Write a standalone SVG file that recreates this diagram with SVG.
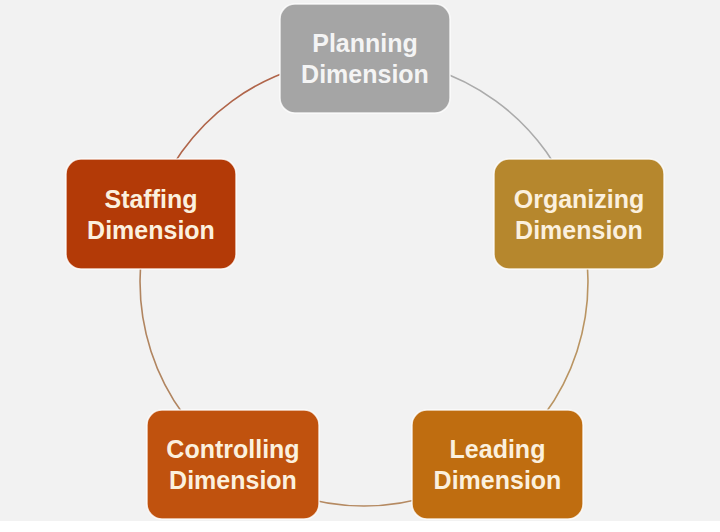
<svg xmlns="http://www.w3.org/2000/svg" width="720" height="532" viewBox="0 0 720 532">
<style>
.box{stroke:#ffffff;stroke-width:1.5;stroke-opacity:0.8}
.lbl{font-family:"Liberation Sans",Arial,sans-serif;font-weight:bold;font-size:25px;text-anchor:middle;fill:#fbf0de}
.arc{fill:none;stroke-width:1.6}
</style>
<rect x="0" y="0" width="720" height="532" fill="#ffffff"/>
<rect x="0" y="0" width="720" height="521" fill="#f2f2f2"/>
<g id="connectors">
<path class="arc" d="M364 58 A224 224 0 0 1 577 212.8" stroke="#ababab"/>
<path class="arc" d="M577 212.8 A224 224 0 0 1 495.7 463.2" stroke="#b99462"/>
<path class="arc" d="M495.7 463.2 A224 224 0 0 1 232.3 463.2" stroke="#b58a62"/>
<path class="arc" d="M232.3 463.2 A224 224 0 0 1 151 212.8" stroke="#b18560"/>
<path class="arc" d="M151 212.8 A224 224 0 0 1 364 58" stroke="#b0654a"/>
</g>
<g id="planning">
<rect class="box" x="280" y="4" width="170" height="109" rx="15" fill="#a5a5a5"/>
<text class="lbl" x="365" y="52" fill="#f4f4f4" style="fill:#f4f4f4">Planning</text>
<text class="lbl" x="365" y="83" style="fill:#f4f4f4">Dimension</text>
</g>
<g id="organizing">
<rect class="box" x="494" y="159" width="170" height="110" rx="15" fill="#b6872d"/>
<text class="lbl" x="579" y="207.5">Organizing</text>
<text class="lbl" x="579" y="238.5">Dimension</text>
</g>
<g id="leading">
<rect class="box" x="412" y="410" width="171" height="109" rx="15" fill="#bf6d10"/>
<text class="lbl" x="497.5" y="458">Leading</text>
<text class="lbl" x="497.5" y="489">Dimension</text>
</g>
<g id="controlling">
<rect class="box" x="147" y="410" width="172" height="109" rx="15" fill="#c0520e"/>
<text class="lbl" x="233" y="458">Controlling</text>
<text class="lbl" x="233" y="489">Dimension</text>
</g>
<g id="staffing">
<rect class="box" x="66" y="159" width="170" height="110" rx="15" fill="#b33a07"/>
<text class="lbl" x="151" y="207.5">Staffing</text>
<text class="lbl" x="151" y="238.5">Dimension</text>
</g>
</svg>
